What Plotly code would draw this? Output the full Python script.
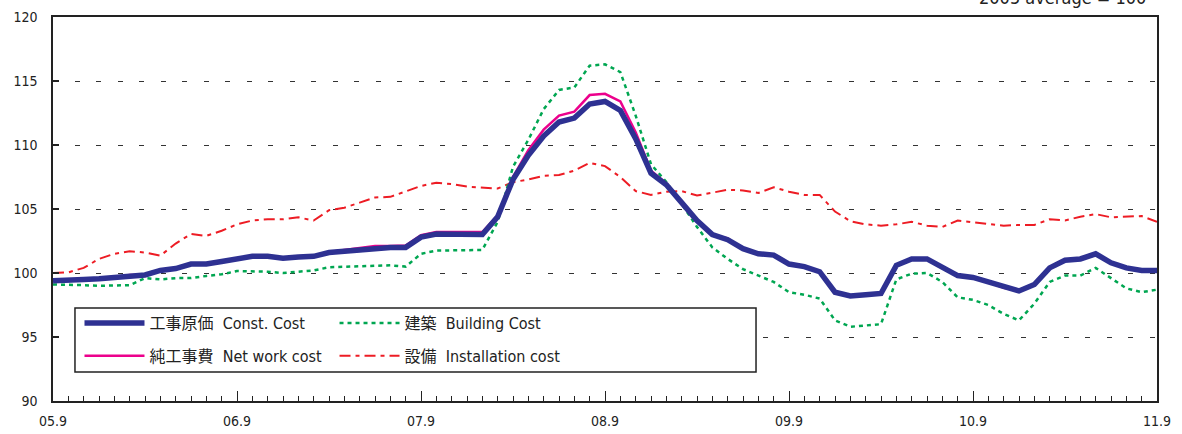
import plotly.graph_objects as go

# Month index 0 = 2005.9 ... 72 = 2011.9
months = list(range(73))
tick_vals = [0, 12, 24, 36, 48, 60, 72]
tick_labels = ["05.9", "06.9", "07.9", "08.9", "09.9", "10.9", "11.9"]

const_cost = [99.4, 99.4, 99.5, 99.55, 99.65, 99.85, 99.85, 100.2, 100.35, 100.7,
              100.7, 100.9, 101.15, 101.3, 101.3, 101.15, 101.25, 101.3, 101.6, 101.7,
              101.8, 102.0, 102.0, 102.0, 102.8, 103.05, 103.05, 103.0, 103.0, 104.4,
              107.3, 109.2, 110.7, 111.8, 112.1, 113.2, 113.4, 112.7, 110.5, 107.8,
              106.9, 105.5, 104.1, 103.0, 102.6, 101.9, 101.5, 101.4, 100.7, 100.5,
              100.1, 98.5, 98.2, 98.3, 98.4, 100.6, 101.1, 101.1, 100.5, 99.8,
              99.65, 99.3, 98.85, 98.6, 99.1, 100.4, 101.0, 101.1, 101.5, 100.8,
              100.4, 100.2, 100.2]

net_work = [99.4, 99.4, 99.5, 99.55, 99.65, 99.85, 99.85, 100.2, 100.35, 100.7,
            100.7, 100.9, 101.15, 101.3, 101.3, 101.15, 101.25, 101.35, 101.65, 101.8,
            101.9, 102.1, 102.1, 102.15, 102.95, 103.2, 103.2, 103.2, 103.2, 104.5,
            107.5, 109.6, 111.2, 112.3, 112.6, 113.9, 114.0, 113.4, 111.0, 108.0,
            107.0, 105.5, 104.1, 103.0, 102.7, 101.9, 101.5, 101.4, 100.7, 100.5,
            100.1, 98.5, 98.2, 98.3, 98.4, 100.6, 101.1, 101.1, 100.5, 99.8,
            99.65, 99.3, 98.85, 98.6, 99.1, 100.4, 101.0, 101.1, 101.5, 100.8,
            100.4, 100.2, 100.2]

building = [99.1, 99.1, 99.05, 99.0, 99.0, 99.05, 99.6, 99.5, 99.6, 99.6,
            99.77, 99.9, 100.15, 100.15, 100.1, 100.0, 100.1, 100.2, 100.45, 100.5,
            100.55, 100.6, 100.6, 100.5, 101.5, 101.75, 101.75, 101.75, 101.8, 104.0,
            108.3, 110.4, 112.8, 114.3, 114.5, 116.2, 116.3, 115.7, 112.3, 108.5,
            107.1, 105.4, 103.6, 102.0, 101.1, 100.3, 99.8, 99.3, 98.5, 98.3,
            98.0, 96.3, 95.8, 95.9, 96.0, 99.5, 99.95, 100.0, 99.3, 98.1,
            97.9, 97.5, 96.8, 96.3, 97.6, 99.3, 99.8, 99.8, 100.4, 99.6,
            98.8, 98.5, 98.7]

installation = [100.0, 100.05, 100.4, 101.1, 101.5, 101.7, 101.6, 101.35, 102.3, 103.05,
                102.9, 103.3, 103.8, 104.1, 104.2, 104.2, 104.35, 104.1, 104.9, 105.1,
                105.5, 105.9, 105.95, 106.35, 106.8, 107.05, 106.95, 106.75, 106.7, 106.6,
                107.1, 107.3, 107.6, 107.65, 108.0, 108.6, 108.35, 107.5, 106.4, 106.1,
                106.35, 106.4, 106.05, 106.3, 106.5, 106.45, 106.25, 106.7, 106.35, 106.1,
                106.1, 104.8, 104.05, 103.8, 103.7, 103.8, 104.0, 103.7, 103.6, 104.1,
                103.95, 103.85, 103.7, 103.75, 103.75, 104.2, 104.1, 104.4, 104.6, 104.35,
                104.4, 104.45, 104.0]

names = {
    "const": "工事原価\u00a0\u00a0Const.\u00a0Cost",
    "net": "純工事費\u00a0\u00a0Net\u00a0work\u00a0cost",
    "building": "建築\u00a0\u00a0Building\u00a0Cost",
    "install": "設備\u00a0\u00a0Installation\u00a0cost",
}

fig = go.Figure()
fig.add_trace(go.Scatter(x=months, y=installation, mode="lines", name=names["install"],
                         line=dict(color="#ED1C24", width=2, dash="11px,5px,4px,5px"),
                         legend="legend2", legendgroup="d", legendrank=2))
fig.add_trace(go.Scatter(x=months, y=building, mode="lines", name=names["building"],
                         line=dict(color="#00A651", width=2.5, dash="4px,4px"),
                         legend="legend2", legendgroup="c", legendrank=1))
fig.add_trace(go.Scatter(x=months, y=net_work, mode="lines", name=names["net"],
                         line=dict(color="#EC008C", width=2.5),
                         legend="legend", legendgroup="b", legendrank=2))
fig.add_trace(go.Scatter(x=months, y=const_cost, mode="lines", name=names["const"],
                         line=dict(color="#2E3192", width=5.5),
                         legend="legend", legendgroup="a", legendrank=1))

narrow = "DejaVu Sans Condensed, Liberation Sans Narrow, Noto Sans"
tick_font = dict(family=narrow, size=14, color="#222")
leg_font = dict(family=narrow + ", Noto Sans CJK JP", size=16, color="#222")

fig.update_layout(
    width=1182, height=434,
    margin=dict(l=53, r=25, t=17, b=33, autoexpand=False),
    paper_bgcolor="white", plot_bgcolor="white",
    showlegend=True,
    legend=dict(x=0.024, y=0.247, xanchor="left", yanchor="top", bgcolor="rgba(0,0,0,0)",
                font=leg_font, itemwidth=60, tracegroupgap=9, traceorder="grouped"),
    legend2=dict(x=0.255, y=0.247, xanchor="left", yanchor="top", bgcolor="rgba(0,0,0,0)",
                 font=leg_font, itemwidth=60, tracegroupgap=9, traceorder="grouped"),
    shapes=[dict(type="rect", xref="paper", yref="paper", x0=0.0199, x1=0.6368,
                 y0=0.0755, y1=0.2422, line=dict(color="#222", width=1.5),
                 fillcolor="white", layer="above")],
    annotations=[dict(text="2005 average = 100", xref="paper", yref="paper", x=0.9915, y=1.05,
                      xanchor="right", yanchor="middle", showarrow=False,
                      font=dict(family=narrow, size=18, color="#222"))],
)
fig.update_xaxes(range=[0, 72], tickvals=tick_vals, ticktext=tick_labels,
                 ticks="inside", ticklen=10, tickwidth=1, tickcolor="#222",
                 minor=dict(dtick=1, tick0=0, ticks="inside", ticklen=5, tickwidth=1, tickcolor="#222", showgrid=False),
                 showgrid=False, zeroline=False, showline=True, mirror=True,
                 linecolor="#222", linewidth=1.5, tickfont=tick_font,
                 automargin=False, ticklabelstandoff=6)
fig.update_yaxes(range=[90, 120], dtick=5, tick0=90, ticks="inside", ticklen=6, tickwidth=2,
                 tickcolor="#222", showgrid=True, gridcolor="#333", gridwidth=1,
                 griddash="5px,16.5px", zeroline=False, showline=True, mirror=True,
                 linecolor="#222", linewidth=1.5, tickfont=tick_font,
                 automargin=False, ticklabelstandoff=11)

fig.write_html("out.html", config={"displayModeBar": False},
               post_script="document.body.style.margin='0';")
